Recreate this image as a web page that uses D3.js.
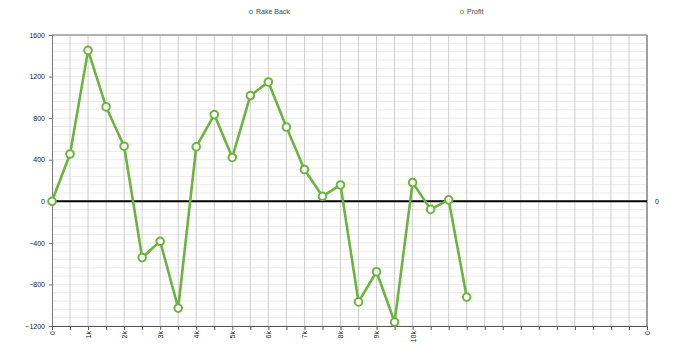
<!DOCTYPE html>
<html>
<head>
<meta charset="utf-8">
<script src="https://cdn.jsdelivr.net/npm/d3@7"></script>
<style>
  body { margin: 0; background: #fff; }
  svg { display: block; font-family: "Liberation Sans", Arial, sans-serif; }
</style>
</head>
<body>
<svg width="700" height="346"></svg>
<script>
let width = 700;
let height = 346;

let margin = { top: 35, right: 53, bottom: 20, left: 52 };

// hands played (x) and profit (y)
let hands = [0, 500, 1000, 1500, 2000, 2500, 3000, 3500, 4000, 4500, 5000, 5500,
    6000, 6500, 7000, 7500, 8000, 8500, 9000, 9500, 10000, 10500, 11000, 11500];
let profit = [0, 455, 1452, 908, 530, -542, -385, -1028, 524, 834, 422, 1017,
    1148, 714, 306, 48, 157, -968, -678, -1162, 180, -78, 14, -922];

let yTicks = [-1200, -800, -400, 0, 400, 800, 1200, 1600];
let xLabels = { 0: "0", 1000: "1k", 2000: "2k", 3000: "3k", 4000: "4k", 5000: "5k",
    6000: "6k", 7000: "7k", 8000: "8k", 9000: "9k", 10000: "10k", 16500: "0" };
let legendItems = ["Rake Back", "Profit"];
let legendColors = ["#5b8fd0", "#6db33f"];

let svg = d3.select("svg");

let x = d3.scaleLinear()
    .domain([0, 16500])
    .range([margin.left, width - margin.right]);

let y = d3.scaleLinear()
    .domain([-1200, 1600])
    .range([height - margin.bottom, margin.top]);

// minor horizontal grid
svg.append("g")
    .selectAll("line")
    .data(d3.range(-1200, 1601, 80))
    .join("line")
    .attr("x1", x(0)).attr("x2", x(16500))
    .attr("y1", d => y(d)).attr("y2", d => y(d))
    .style("stroke", "#ebebeb")
    .style("stroke-width", "1px");

// vertical grid
svg.append("g")
    .selectAll("line")
    .data(d3.range(500, 16500, 500))
    .join("line")
    .attr("x1", d => x(d)).attr("x2", d => x(d))
    .attr("y1", y(1600)).attr("y2", y(-1200))
    .style("stroke", "#cfcfcf")
    .style("stroke-width", "1px");

// frame: top and right
svg.append("line")
    .attr("x1", x(0)).attr("x2", x(16500))
    .attr("y1", y(1600)).attr("y2", y(1600))
    .style("stroke", "#9a9a9a").style("stroke-width", "1.5px");
svg.append("line")
    .attr("x1", x(16500)).attr("x2", x(16500))
    .attr("y1", y(1600)).attr("y2", y(-1200))
    .style("stroke", "#a0a0a0").style("stroke-width", "2px");

// left axis
let yAxis = svg.append("g")
    .attr("transform", `translate(${x(0)},0)`)
    .call(d3.axisLeft(y).tickValues(yTicks).tickSize(3).tickPadding(4)
        .tickFormat(d3.format("d")))
yAxis.select(".domain").style("stroke", "#777");
yAxis.selectAll(".tick line").style("stroke", "#777");
yAxis.selectAll("text").attr("fill", "#222").style("font-size", "7px");

// bottom axis
let xAxis = svg.append("g")
    .attr("transform", `translate(0,${y(-1200)})`)
    .call(d3.axisBottom(x)
        .tickValues(d3.range(0, 16501, 500))
        .tickSize(4)
        .tickFormat(d => xLabels[d] || ""));
xAxis.select(".domain").style("stroke", "#555");
xAxis.selectAll(".tick line").style("stroke", "#555");
xAxis.selectAll("text")
    .attr("fill", "#222")
    .style("font-size", "7px")
    .attr("text-anchor", "end")
    .attr("transform", "rotate(-90)")
    .attr("x", -5)
    .attr("y", 0)
    .attr("dy", "0.35em");

// right axis label
svg.append("text")
    .attr("x", x(16500) + 8)
    .attr("y", y(0))
    .attr("dy", "0.35em")
    .attr("fill", "#222")
    .style("font-size", "7px")
    .text("0");

// zero line
svg.append("line")
    .attr("x1", x(0)).attr("x2", x(16500))
    .attr("y1", y(0)).attr("y2", y(0))
    .style("stroke", "black")
    .style("stroke-width", "2px");

// profit line
let line = d3.line()
    .x((d, i) => x(hands[i]))
    .y(d => y(d));

svg.append("path")
    .datum(profit)
    .attr("d", line)
    .style("fill", "none")
    .style("stroke", "#6db33f")
    .style("stroke-width", "2.6px")
    .style("stroke-linejoin", "round");

svg.append("g")
    .selectAll("circle")
    .data(profit)
    .join("circle")
    .attr("cx", (d, i) => x(hands[i]))
    .attr("cy", d => y(d))
    .attr("r", 3.8)
    .style("fill", "white")
    .style("stroke", "#6db33f")
    .style("stroke-width", "2px");

// legend
let legendX = [251, 462];
let legend = svg.append("g")
    .selectAll("g")
    .data(legendItems)
    .join("g")
    .attr("transform", (d, i) => `translate(${legendX[i]},12)`);
legend.append("circle")
    .attr("r", 1.8)
    .style("fill", "white")
    .style("stroke", (d, i) => legendColors[i])
    .style("stroke-width", "1px");
legend.append("text")
    .attr("x", 5)
    .attr("dy", "0.35em")
    .attr("fill", "#444")
    .style("font-size", "7px")
    .text(d => d);
</script>
</body>
</html>
